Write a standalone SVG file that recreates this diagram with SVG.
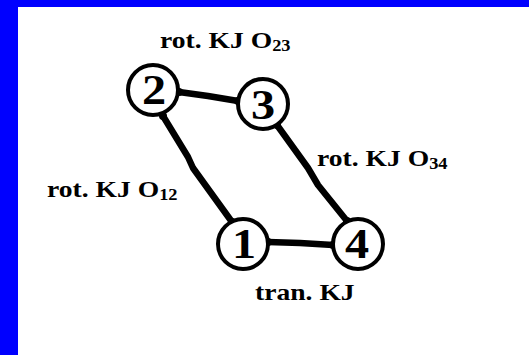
<svg xmlns="http://www.w3.org/2000/svg" width="529" height="355" viewBox="0 0 529 355">
<style>
.lbl{font-family:"Liberation Serif","Times New Roman",serif;font-weight:bold;font-size:24px;fill:#000}
.sub{font-size:16px}
.num{font-family:"Liberation Serif","Times New Roman",serif;font-weight:bold;font-size:42px;fill:#000;text-anchor:middle}
.node circle{fill:#fff;stroke:#000;stroke-width:4}
.edge{fill:none;stroke:#000;stroke-width:6.5;stroke-linecap:round;stroke-linejoin:round}
.dot{fill:#000}
</style>
<rect x="0" y="0" width="529" height="355" fill="#fff"/>
<rect x="0" y="0" width="529" height="7" fill="#0000ff"/>
<rect x="0" y="0" width="18" height="355" fill="#0000ff"/>
<g id="connectors">
<polyline class="edge" points="179,92 208,96 238,101"/>
<polyline class="edge" points="163,116 188,157 193,168 232,222"/>
<polyline class="edge" points="277,125 308,168 318,185 347,221"/>
<polyline class="edge" points="268,242 300,243 333,245"/>
<circle class="dot" cx="179" cy="92" r="4"/>
<circle class="dot" cx="238" cy="101" r="4"/>
<circle class="dot" cx="163" cy="116" r="4"/>
<circle class="dot" cx="232" cy="222" r="4"/>
<circle class="dot" cx="277" cy="125" r="4"/>
<circle class="dot" cx="347" cy="221" r="4"/>
<circle class="dot" cx="268" cy="242" r="4"/>
<circle class="dot" cx="333" cy="245" r="4"/>
</g>
<g id="node2" class="node"><circle cx="153" cy="90" r="25"/><text class="num" transform="translate(154,104) scale(1.15,1)">2</text></g>
<g id="node3" class="node"><circle cx="263" cy="104" r="25"/><text class="num" transform="translate(263,119) scale(1.15,1)">3</text></g>
<g id="node1" class="node"><circle cx="243" cy="244" r="25"/><text class="num" transform="translate(244,258) scale(1.15,1)">1</text></g>
<g id="node4" class="node"><circle cx="358" cy="244" r="25"/><text class="num" transform="translate(357,258) scale(1.15,1)">4</text></g>
<g id="labels">
<text class="lbl" transform="translate(160,48) scale(1.15,1)">rot. KJ O<tspan class="sub" dy="3">23</tspan></text>
<text class="lbl" transform="translate(47,197) scale(1.15,1)">rot. KJ O<tspan class="sub" dy="3">12</tspan></text>
<text class="lbl" transform="translate(317,166) scale(1.15,1)">rot. KJ O<tspan class="sub" dy="3">34</tspan></text>
<text class="lbl" transform="translate(255,300) scale(1.15,1)">tran. KJ</text>
</g>
</svg>
